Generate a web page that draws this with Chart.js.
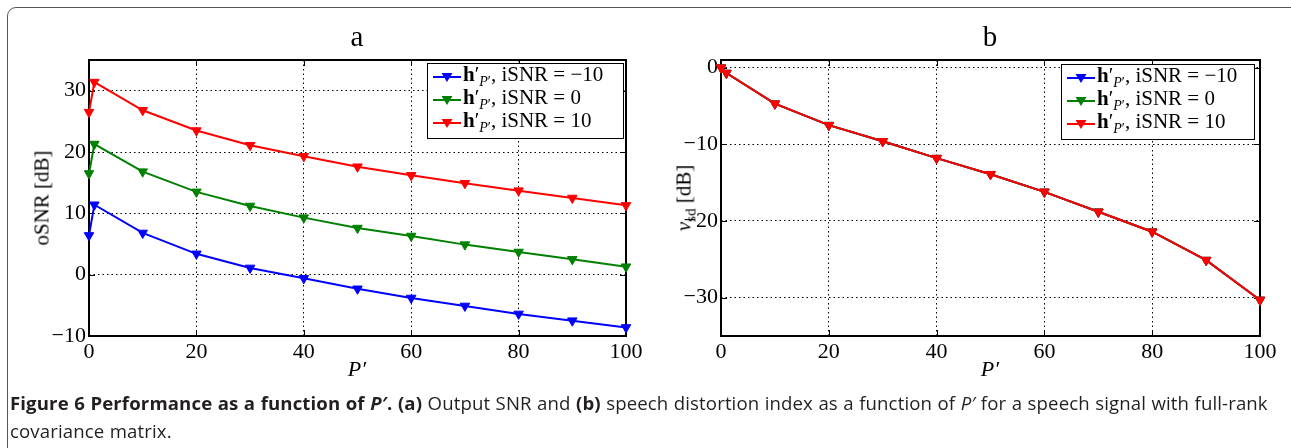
<!DOCTYPE html>
<html>
<head>
<meta charset="utf-8">
<script src="https://cdn.jsdelivr.net/npm/chart.js@4/dist/chart.umd.min.js"></script>
<style>
  html, body { margin: 0; padding: 0; background: #fff; }
  body { width: 1291px; height: 448px; overflow: hidden; position: relative; }
  .frame {
    position: absolute; left: 7px; top: 7px; width: 1300px; height: 460px;
    border: 1.5px solid #555; border-radius: 9px; box-sizing: border-box;
  }
  .panel { position: absolute; top: 0; width: 660px; height: 390px; }
  .serif { font-family: "Liberation Serif", "DejaVu Serif", serif; color: #000; }
  .ptitle { position: absolute; top: 20px; font-size: 29px; transform: translateX(-50%); }
  .xlab { position: absolute; top: 356px; font-size: 22px; font-style: italic; transform: translateX(-50%); }
  .ylab { position: absolute; font-size: 21px; transform: translate(-50%, -50%) rotate(-90deg); white-space: nowrap; }
  .legend {
    position: absolute; background: #fff; border: 1.5px solid #000; box-sizing: border-box;
    font-size: 21px; line-height: 23px; padding: 3px 6px 2px 5px;
  }
  .legend .row { display: flex; align-items: center; height: 23px; white-space: nowrap; }
  .legend svg { margin-right: 2px; flex: none; }
  .caption {
    position: absolute; left: 10px; top: 389px; width: 1272px;
    font-family: "Open Sans", "Noto Sans", sans-serif; font-size: 18.6px; line-height: 28px;
    letter-spacing: 0.12px; word-spacing: 0.5px; color: #231f20;
  }
  .caption b { font-weight: 700; }
</style>
</head>
<body>
<div class="frame"></div>

<div class="panel" style="left:0"><canvas id="chartA" width="660" height="390"></canvas></div>
<div class="panel" style="left:632px"><canvas id="chartB" width="660" height="390"></canvas></div>

<div class="serif ptitle" style="left:357px">a</div>
<div class="serif ptitle" style="left:990px">b</div>
<div class="serif xlab" style="left:357px">P&prime;</div>
<div class="serif xlab" style="left:990px">P&prime;</div>
<div class="serif ylab" style="left:42px; top:198px">oSNR [dB]</div>
<div class="serif ylab" style="left:684px; top:198px"><i>v</i><span style="font-size:15px; position:relative; top:5px">sd</span> [dB]</div>

<div id="legendA" class="serif legend" style="left:427px; top:63px; width:197px"></div>
<div id="legendB" class="serif legend" style="left:1061px; top:64px; width:194px"></div>

<div class="caption"><b>Figure 6 Performance as a function of <i>P&prime;</i>. (a)</b> Output SNR and <b>(b)</b> speech distortion index as a function of <i>P&prime;</i> for a speech signal with full-rank covariance matrix.</div>

<script>
// Filter lengths P' evaluated
const pValues = [0, 1, 10, 20, 30, 40, 50, 60, 70, 80, 90, 100];

// Output SNR [dB] for the three input SNRs
const osnrLow  = [6.4, 11.4, 6.8, 3.4, 1.1, -0.6, -2.3, -3.8, -5.1, -6.4, -7.5, -8.6];
const osnrMid  = [16.5, 21.3, 16.8, 13.5, 11.2, 9.3, 7.6, 6.3, 4.9, 3.7, 2.5, 1.3];
const osnrHigh = [26.5, 31.4, 26.8, 23.5, 21.1, 19.3, 17.6, 16.2, 14.9, 13.7, 12.5, 11.3];

// Speech distortion index [dB] (same for every input SNR)
const vsdLow  = [0, -0.7, -4.7, -7.5, -9.6, -11.8, -13.9, -16.2, -18.8, -21.4, -25.1, -30.3];
const vsdMid  = [0, -0.7, -4.7, -7.5, -9.6, -11.8, -13.9, -16.2, -18.8, -21.4, -25.1, -30.3];
const vsdHigh = [0, -0.7, -4.7, -7.5, -9.6, -11.8, -13.9, -16.2, -18.8, -21.4, -25.1, -30.3];

const isnrLabels = ['\u221210', '0', '10'];
const seriesColors = ['#0000ff', '#008000', '#ff0000'];

const xTicks = [0, 20, 40, 60, 80, 100];
const yTicksA = [-10, 0, 10, 20, 30];
const yTicksB = [-30, -20, -10, 0];

const serif = '"Liberation Serif", "DejaVu Serif", serif';

function toPoints(ys) {
    return pValues.map(function(p, i) { return { x: p, y: ys[i] }; });
}

// Later series are plotted over earlier ones
function makeDatasets(seriesList) {
    return seriesList.map(function(ys, i) {
        return {
            data: toPoints(ys),
            order: seriesList.length - i,
            clip: false,
            borderColor: seriesColors[i],
            backgroundColor: seriesColors[i],
            borderWidth: 2,
            pointStyle: 'triangle',
            rotation: 180,
            pointRadius: 5.5,
            pointBorderWidth: 1,
            tension: 0
        };
    });
}

// Box around the plot area plus inward tick marks on all four sides
const axesBox = {
    id: 'axesBox',
    beforeDatasetsDraw: function(chart) {
        const ctx = chart.ctx;
        const a = chart.chartArea;
        const xs = chart.scales.x, ys = chart.scales.y;
        ctx.save();
        ctx.strokeStyle = '#000';
        ctx.lineWidth = 1;
        xs.ticks.forEach(function(t) {
            const px = Math.round(xs.getPixelForValue(t.value)) + 0.5;
            ctx.beginPath();
            ctx.moveTo(px, a.bottom); ctx.lineTo(px, a.bottom - 6);
            ctx.moveTo(px, a.top); ctx.lineTo(px, a.top + 6);
            ctx.stroke();
        });
        ys.ticks.forEach(function(t) {
            const py = Math.round(ys.getPixelForValue(t.value)) + 0.5;
            ctx.beginPath();
            ctx.moveTo(a.left, py); ctx.lineTo(a.left + 6, py);
            ctx.moveTo(a.right, py); ctx.lineTo(a.right - 6, py);
            ctx.stroke();
        });
        ctx.lineWidth = 2;
        ctx.strokeRect(a.left, a.top, a.right - a.left, a.bottom - a.top);
        ctx.restore();
    }
};

function makeChart(canvasId, seriesList, yMin, yMax, yTicks, padLeft, padRight) {
    const ctx = document.getElementById(canvasId).getContext('2d');
    return new Chart(ctx, {
        type: 'line',
        data: { datasets: makeDatasets(seriesList) },
        options: {
            responsive: false,
            animation: false,
            events: [],
            layout: { padding: { top: 60, left: padLeft, right: padRight, bottom: 0 } },
            plugins: { legend: { display: false }, tooltip: { enabled: false } },
            scales: {
                x: {
                    type: 'linear',
                    min: 0,
                    max: 100,
                    afterBuildTicks: function(s) { s.ticks = xTicks.map(function(v) { return { value: v }; }); },
                    afterFit: function(s) { s.height = 54; },
                    grid: { color: '#000', lineWidth: 1, drawTicks: false },
                    border: { display: false, dash: [1.5, 3] },
                    ticks: { color: '#000', padding: 3, maxRotation: 0, font: { family: serif, size: 22 } }
                },
                y: {
                    type: 'linear',
                    min: yMin,
                    max: yMax,
                    afterBuildTicks: function(s) { s.ticks = yTicks.map(function(v) { return { value: v }; }); },
                    afterFit: function(s) { s.width = 89 - padLeft; },
                    grid: { color: '#000', lineWidth: 1, drawTicks: false },
                    border: { display: false, dash: [1.5, 3] },
                    ticks: {
                        color: '#000', padding: 3, font: { family: serif, size: 22 },
                        callback: function(v) { return String(v).replace('-', '\u2212'); }
                    }
                }
            }
        },
        plugins: [axesBox]
    });
}

function buildLegend(id) {
    const el = document.getElementById(id);
    isnrLabels.forEach(function(lbl, i) {
        const c = seriesColors[i];
        const row = document.createElement('div');
        row.className = 'row';
        row.innerHTML =
            '<svg width="28" height="14"><line x1="0" y1="5" x2="28" y2="5" stroke="' + c + '" stroke-width="2"/>' +
            '<polygon points="8.5,1 19.5,1 14,10" fill="' + c + '"/></svg>' +
            '<span><b>h</b>&prime;<sub style="font-size:14px"><i>P</i>&prime;</sub>, iSNR = ' + lbl + '</span>';
        el.appendChild(row);
    });
}

document.addEventListener('DOMContentLoaded', function() {
    makeChart('chartA', [osnrLow, osnrMid, osnrHigh], -10, 35, yTicksA, 0, 34);
    makeChart('chartB', [vsdLow, vsdMid, vsdHigh], -35, 1, yTicksB, 0, 32);
    buildLegend('legendA');
    buildLegend('legendB');
});
</script>
</body>
</html>
